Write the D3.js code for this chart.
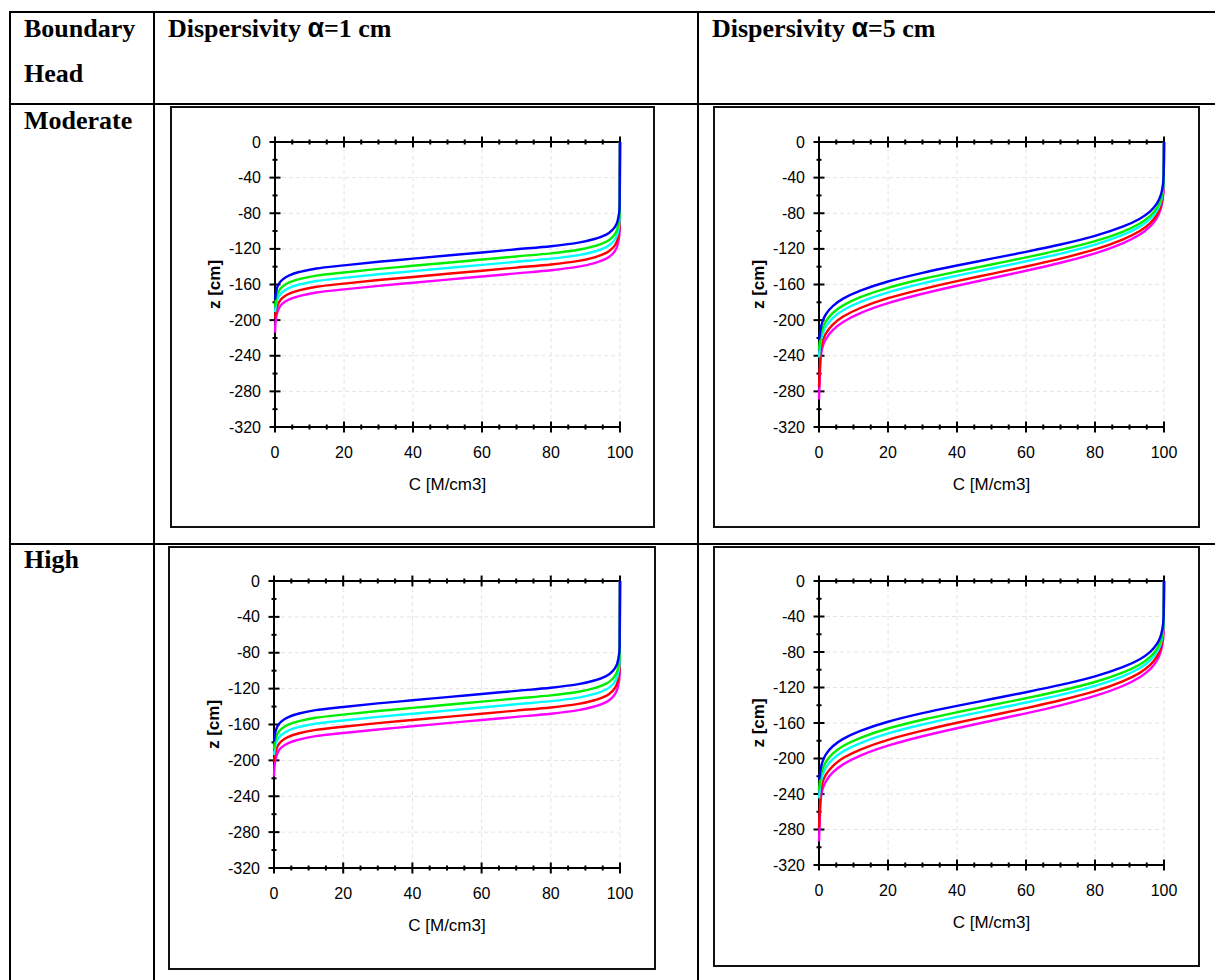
<!DOCTYPE html>
<html>
<head>
<meta charset="utf-8">
<script src="https://cdn.jsdelivr.net/npm/d3@7"></script>
<style>
  body { margin: 0; background: #fff; }
  svg { display: block; }
</style>
</head>
<body>
<script>
// Concentration levels C [M/cm3] at which every profile lists its depth z [cm]
const concLevels = [100, 99.9, 99.5, 99, 98, 96, 93, 88, 80, 70, 60, 50, 40, 30, 20, 12, 7, 4, 2, 1, 0.5, 0.2, 0];

// Moderate boundary head, dispersivity 1 cm
const modD1Blue    = [0, -72, -85, -92, -98, -104, -108.5, -113, -117, -120.5, -124, -127.5, -131, -134.5, -138.5, -142, -146, -150, -155, -160, -165, -171, -177];
const modD1Green   = [0, -80, -93, -100, -106, -112, -116.5, -121, -125, -128.5, -132, -135.5, -139, -142.5, -146.5, -150, -154, -158, -163, -168, -173, -179, -185];
const modD1Cyan    = [0, -86, -99, -106, -112, -118, -122.5, -127, -131, -134.5, -138, -141.5, -145, -148.5, -152.5, -156, -160, -164, -169, -174, -179, -185, -191];
const modD1Red     = [0, -92.5, -105.5, -112.5, -118.5, -124.5, -129, -133.5, -137.5, -141, -144.5, -148, -151.5, -155, -159, -162.5, -166.5, -170.5, -175.5, -181, -186.5, -192, -198];
const modD1Magenta = [0, -99, -112, -119, -125, -131, -135.5, -140, -144, -147.5, -151, -154.5, -158, -161.5, -165.5, -169, -173, -177, -182, -188, -194, -201, -214];

// Moderate boundary head, dispersivity 5 cm
const modD5Blue    = [0, -37, -52.7, -60.3, -68.6, -77.8, -86.1, -95.1, -105.4, -115.1, -123.3, -131, -138.7, -146.9, -156.6, -166.9, -175.9, -184.2, -193.4, -201.7, -209.3, -217, -222];
const modD5Green   = [0, -41.4, -57.4, -65.1, -73.6, -83, -91.6, -100.8, -111.3, -121.2, -129.6, -137.5, -145.4, -153.8, -163.7, -174.2, -183.4, -192, -201.4, -209.9, -217.6, -226, -233];
const modD5Cyan    = [0, -43.7, -60.1, -68, -76.7, -86.3, -95, -104.4, -115.2, -125.3, -133.9, -142, -150.1, -158.7, -168.8, -179.6, -189, -197.7, -207.3, -216, -224, -233, -242];
const modD5Red     = [0, -47.5, -64.2, -72.3, -81.2, -91.1, -100, -109.6, -120.6, -130.9, -139.8, -148, -156.2, -165.1, -175.4, -186.4, -196, -205, -214.8, -223.7, -235, -258, -275];
const modD5Magenta = [0, -50.3, -67.4, -75.7, -84.8, -94.8, -103.9, -113.8, -125, -135.6, -144.6, -153, -161.4, -170.4, -181, -192.2, -202.1, -211.2, -221.2, -230.3, -242, -268, -289];

// High boundary head, dispersivity 1 cm
const highD1Blue    = [0, -74, -87, -94, -100, -106, -110.5, -115, -119, -122.5, -126, -129.5, -133, -136.5, -140.5, -144, -148, -152, -157, -162, -167, -173, -179];
const highD1Green   = [0, -82.5, -95.5, -102.5, -108.5, -114.5, -119, -123.5, -127.5, -131, -134.5, -138, -141.5, -145, -149, -152.5, -156.5, -160.5, -165.5, -170.5, -175.5, -181.5, -187.5];
const highD1Cyan    = [0, -89, -102, -109, -115, -121, -125.5, -130, -134, -137.5, -141, -144.5, -148, -151.5, -155.5, -159, -163, -167, -172, -177, -182, -188, -194];
const highD1Red     = [0, -96, -109, -116, -122, -128, -132.5, -137, -141, -144.5, -148, -151.5, -155, -158.5, -162.5, -166, -170, -174, -179, -184.5, -190, -195.5, -201.5];
const highD1Magenta = [0, -103, -116, -123, -129, -135, -139.5, -144, -148, -151.5, -155, -158.5, -162, -165.5, -169.5, -173, -177, -181, -186, -192, -198, -205, -218];

// High boundary head, dispersivity 5 cm
const highD5Blue    = [0, -39, -54.7, -62.3, -70.6, -79.8, -88.1, -97.1, -107.4, -117.1, -125.3, -133, -140.7, -148.9, -158.6, -168.9, -177.9, -186.2, -195.4, -203.7, -211.3, -219, -224];
const highD5Green   = [0, -43.9, -59.9, -67.6, -76.1, -85.5, -94.1, -103.3, -113.8, -123.7, -132.1, -140, -147.9, -156.3, -166.2, -176.7, -185.9, -194.5, -203.9, -212.4, -220.1, -228.5, -235.5];
const highD5Cyan    = [0, -46.7, -63.1, -71, -79.7, -89.3, -98, -107.4, -118.2, -128.3, -136.9, -145, -153.1, -161.7, -171.8, -182.6, -192, -200.7, -210.3, -219, -227, -236, -245];
const highD5Red     = [0, -51, -67.7, -75.8, -84.7, -94.6, -103.5, -113.1, -124.1, -134.4, -143.3, -151.5, -159.7, -168.6, -178.9, -189.9, -199.5, -208.5, -218.3, -227.2, -238.5, -261.5, -278.5];
const highD5Magenta = [0, -54.8, -71.9, -80.2, -89.3, -99.3, -108.4, -118.3, -129.5, -140.1, -149.1, -157.5, -165.9, -174.9, -185.5, -196.7, -206.6, -215.7, -225.7, -234.8, -246.5, -272.5, -293.5];

// Axis ticks
const concTicks = [0, 20, 40, 60, 80, 100];
const concMinorTicks = [5, 10, 15, 25, 30, 35, 45, 50, 55, 65, 70, 75, 85, 90, 95];
const depthTicks = [0, -40, -80, -120, -160, -200, -240, -280, -320];
const depthMinorTicks = [-20, -60, -100, -140, -180, -220, -260, -300];

// Table text
const rowHeaderTitle = ["Boundary", "Head"];
const rowLabels = ["Moderate", "High"];
const columnDispersivity = ["1", "5"];
const xAxisTitle = "C [M/cm3]";
const yAxisTitle = "z [cm]";

// Profile colours, listed in drawing order (blue ends up on top)
const profileColors = ["#ff00ff", "#ff0000", "#00ffff", "#00ee00", "#0000ff"];

const panelProfiles = [
  [modD1Magenta, modD1Red, modD1Cyan, modD1Green, modD1Blue],
  [modD5Magenta, modD5Red, modD5Cyan, modD5Green, modD5Blue],
  [highD1Magenta, highD1Red, highD1Cyan, highD1Green, highD1Blue],
  [highD5Magenta, highD5Red, highD5Cyan, highD5Green, highD5Blue]
];

// Layout of the four plot cells: outer frame and plotting area (pixels)
const panelLayout = [
  { frame: [171, 107, 654, 527], plot: [275, 142, 620, 427] },
  { frame: [714, 107, 1199, 527], plot: [819, 142, 1164, 427] },
  { frame: [169, 547, 655, 969], plot: [274, 581, 620, 868] },
  { frame: [714, 547, 1199, 966], plot: [819, 581, 1164, 865] }
];

const W = 1215, H = 980;
const svg = d3.select("body").append("svg")
  .attr("width", W).attr("height", H)
  .attr("viewBox", `0 0 ${W} ${H}`);

const serif = "'Liberation Serif', 'Times New Roman', serif";
const sans = "'Liberation Sans', Arial, Helvetica, sans-serif";

// ---- table grid ----
const table = svg.append("g").attr("stroke", "#000").attr("stroke-width", 2);
[12, 104, 544].forEach(yy => table.append("line").attr("x1", 9).attr("x2", W).attr("y1", yy).attr("y2", yy));
[10, 154, 698].forEach(xx => table.append("line").attr("x1", xx).attr("x2", xx).attr("y1", 11).attr("y2", H));

// ---- table headings ----
const head = svg.append("g")
  .attr("font-family", serif).attr("font-weight", "bold").attr("font-size", 26).attr("fill", "#000");
head.append("text").attr("x", 24).attr("y", 37).text(rowHeaderTitle[0]);
head.append("text").attr("x", 24).attr("y", 82).text(rowHeaderTitle[1]);
head.append("text").attr("x", 24).attr("y", 129).text(rowLabels[0]);
head.append("text").attr("x", 24).attr("y", 568).text(rowLabels[1]);
[168, 712].forEach((xx, i) => {
  const t = head.append("text").attr("x", xx).attr("y", 37);
  t.append("tspan").text("Dispersivity ");
  t.append("tspan").attr("font-family", sans).attr("font-size", 27).text("\u03b1");
  t.append("tspan").text(`=${columnDispersivity[i]} cm`);
});

// ---- plots ----
panelLayout.forEach((p, idx) => {
  const [fx0, fy0, fx1, fy1] = p.frame;
  const [px0, py0, px1, py1] = p.plot;
  const g = svg.append("g");

  g.append("rect")
    .attr("x", fx0).attr("y", fy0).attr("width", fx1 - fx0).attr("height", fy1 - fy0)
    .attr("fill", "none").attr("stroke", "#111").attr("stroke-width", 2);

  const x = d3.scaleLinear().domain([0, 100]).range([px0, px1]);
  const y = d3.scaleLinear().domain([0, -320]).range([py0, py1]);

  // dashed grid
  const grid = g.append("g").attr("stroke", "#e4e4e4").attr("stroke-width", 1).attr("stroke-dasharray", "4,3");
  concTicks.filter(v => v !== 0).forEach(v =>
    grid.append("line").attr("x1", x(v)).attr("x2", x(v)).attr("y1", y(0)).attr("y2", y(-320)));
  depthTicks.filter(v => v !== 0 && v !== -320).forEach(v =>
    grid.append("line").attr("x1", x(0)).attr("x2", x(100)).attr("y1", y(v)).attr("y2", y(v)));

  // axes lines and crossing ticks
  const ax = g.append("g").attr("stroke", "#000").attr("stroke-width", 2).attr("fill", "none");
  ax.append("line").attr("x1", x(0)).attr("x2", x(100)).attr("y1", y(0)).attr("y2", y(0));
  ax.append("line").attr("x1", x(0)).attr("x2", x(100)).attr("y1", y(-320)).attr("y2", y(-320));
  ax.append("line").attr("x1", x(0)).attr("x2", x(0)).attr("y1", y(0)).attr("y2", y(-320));
  [0, -320].forEach(edge => {
    concTicks.forEach(v => ax.append("line")
      .attr("x1", x(v)).attr("x2", x(v)).attr("y1", y(edge) - 5.5).attr("y2", y(edge) + 5.5));
    concMinorTicks.forEach(v => ax.append("line")
      .attr("x1", x(v)).attr("x2", x(v)).attr("y1", y(edge) - 2.5).attr("y2", y(edge) + 2.5));
  });
  depthTicks.forEach(v => ax.append("line")
    .attr("x1", x(0) - 5.5).attr("x2", x(0) + 5.5).attr("y1", y(v)).attr("y2", y(v)));
  depthMinorTicks.forEach(v => ax.append("line")
    .attr("x1", x(0) - 2.5).attr("x2", x(0) + 2.5).attr("y1", y(v)).attr("y2", y(v)));

  // tick labels
  const lab = g.append("g").attr("font-family", sans).attr("font-size", 16).attr("fill", "#000");
  concTicks.forEach(v => lab.append("text")
    .attr("x", x(v)).attr("y", y(-320) + 31).attr("text-anchor", "middle").text(v));
  depthTicks.forEach(v => lab.append("text")
    .attr("x", x(0) - 14).attr("y", y(v) + 5.5).attr("text-anchor", "end").text(v));

  // axis titles
  g.append("text")
    .attr("x", (x(0) + x(100)) / 2).attr("y", y(-320) + 63)
    .attr("text-anchor", "middle").attr("font-family", sans).attr("font-size", 17)
    .text(xAxisTitle);
  g.append("text")
    .attr("transform", `translate(${x(0) - 55},${(y(0) + y(-320)) / 2}) rotate(-90)`)
    .attr("text-anchor", "middle").attr("font-family", sans).attr("font-size", 17)
    .attr("font-weight", "bold")
    .text(yAxisTitle);

  // concentration profiles
  const line = d3.line()
    .x(d => x(d[0]))
    .y(d => y(d[1]))
    .curve(d3.curveMonotoneY);
  panelProfiles[idx].forEach((depths, k) => {
    const pts = concLevels.map((c, i) => [c, depths[i]]);
    g.append("path")
      .attr("d", line(pts))
      .attr("fill", "none")
      .attr("stroke", profileColors[k])
      .attr("stroke-width", 2.4)
      .attr("stroke-linejoin", "round");
  });
});
</script>
</body>
</html>
